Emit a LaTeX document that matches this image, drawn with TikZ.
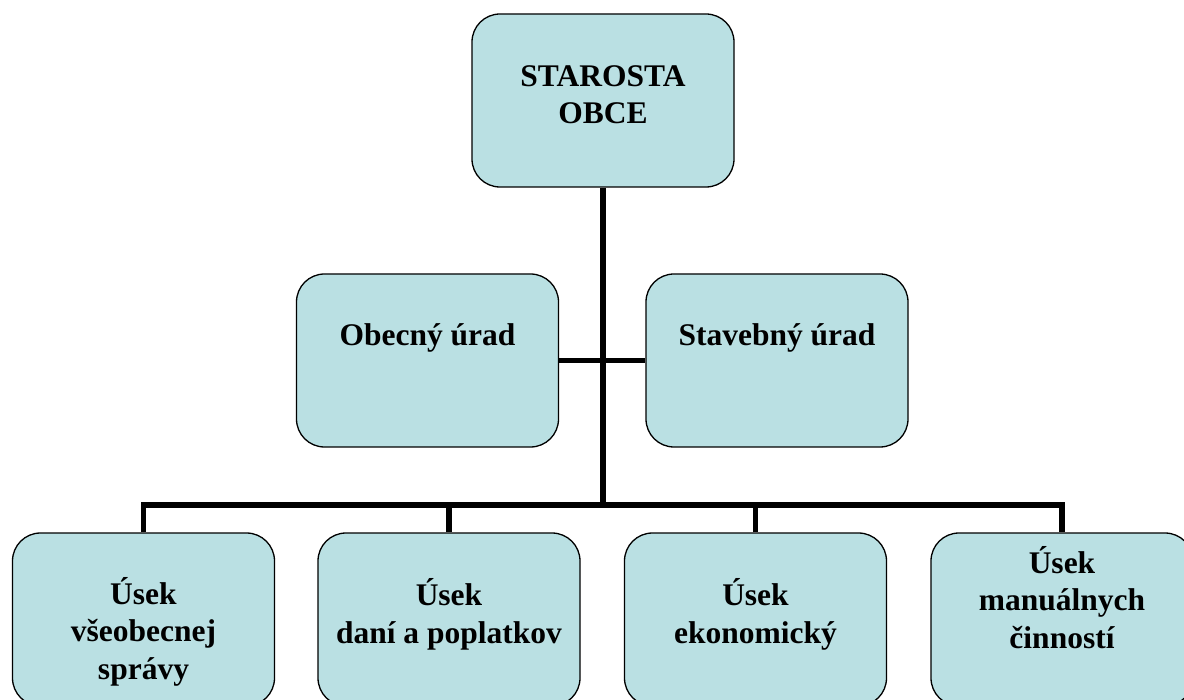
\documentclass[tikz,border=0pt]{standalone}
\usepackage{fontspec}
\setmainfont{Liberation Serif}
\usepackage{xcolor}
\usepackage{tikz}
\usetikzlibrary{calc}
\definecolor{boxfill}{RGB}{186,224,227}
\tikzset{
    box/.style={draw, rectangle, rounded corners=28pt, fill=boxfill, line width=1.3pt, inner sep=0pt, minimum width=262pt, minimum height=173pt},
    lbl/.style={anchor=base, align=center, inner sep=0pt, font=\bfseries\fontsize{31.5}{37.5}\selectfont},
    conn/.style={line width=5.5pt}}
\begin{document}
\begin{tikzpicture}[x=1pt,y=-1pt]
\useasboundingbox (0,0) rectangle (1184,700);
\coordinate (bus) at (603,505);

%Boxes
\node[box] (top) at (603,100.5) {};
\node[box] (obec) at (427.5,360.5) {};
\node[box] (stav) at (777,360.5) {};
\node[box] (u1) at (143.5,619.5) {};
\node[box] (u2) at (449,619.5) {};
\node[box] (u3) at (755.5,619.5) {};
\node[box] (u4) at (1062,619.5) {};

%Connectors
\draw [conn](top.south)--(bus);
\draw [conn](obec.east)--(stav.west);
\draw [conn](u1.north)|-(bus)-|(u4.north);
\draw [conn](u2.north)--(u2.north |- bus);
\draw [conn](u3.north)--(u3.north |- bus);

%Labels (base = last line)
\node[lbl] (topt) at (603,124) {STAROSTA\\OBCE};
\node[lbl] (obect) at (427.5,346) {Obecný úrad};
\node[lbl] (stavt) at (777,346) {Stavebný úrad};
\node[lbl] (u1t) at (143.5,679) {Úsek\\všeobecnej\\správy};
\node[lbl] (u2t) at (449,643) {Úsek\\daní a poplatkov};
\node[lbl] (u3t) at (755.5,643) {Úsek\\ekonomický};
\node[lbl] (u4t) at (1062,648) {Úsek\\manuálnych\\činností};

\end{tikzpicture}
\end{document}
